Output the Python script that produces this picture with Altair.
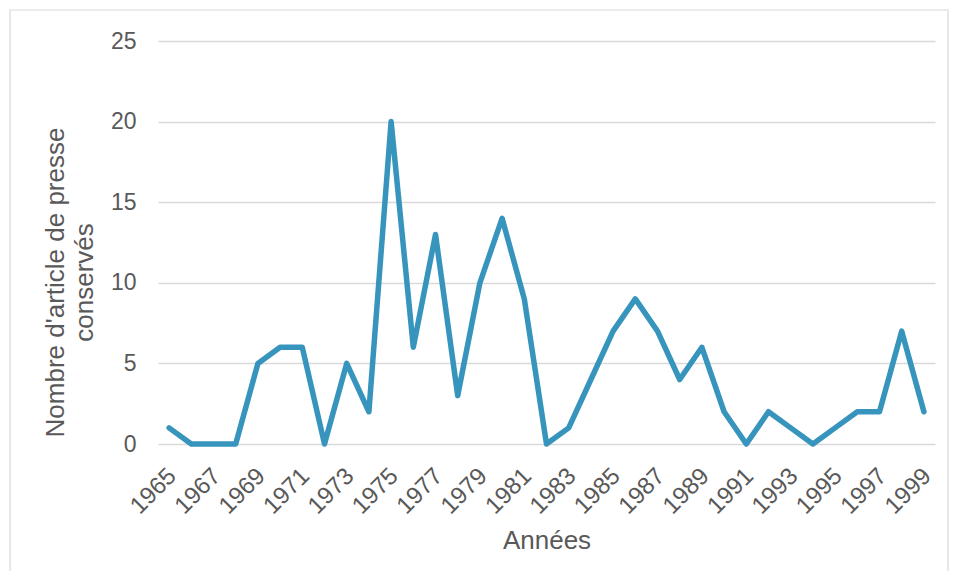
import altair as alt
import pandas as pd

years = list(range(1965, 2000))
counts = [1, 0, 0, 0, 5, 6, 6, 0, 5, 2, 20, 6, 13, 3, 10, 14, 9, 0, 1, 4,
          7, 9, 7, 4, 6, 2, 0, 2, 1, 0, 1, 2, 2, 7, 2]
label_years = list(range(1965, 2000, 2))
y_ticks = [0, 5, 10, 15, 20, 25]

df = pd.DataFrame({"Année": years, "Nombre": counts})

FONT = "Liberation Sans"
GREY = "#595959"

line = alt.Chart(df).mark_line(color="#3795bd", strokeWidth=5.5, strokeJoin="round", strokeCap="round").encode(
    x=alt.X("Année:O",
            scale=alt.Scale(paddingOuter=0.5),
            axis=alt.Axis(values=label_years, labelAngle=-45, labelAlign="right",
                          labelBaseline="middle", labelPadding=28, labelOffset=3,
                          ticks=False, domain=False,
                          grid=False, labelFontSize=24, labelColor=GREY, labelFont=FONT,
                          title="Années", titleFontSize=26, titleFontWeight="normal",
                          titleColor=GREY, titleFont=FONT, titleX=388.5, titleY=104,
                          titleBaseline="alphabetic", titleAlign="center")),
    y=alt.Y("Nombre:Q",
            scale=alt.Scale(domain=[0, 25], nice=False),
            axis=alt.Axis(values=y_ticks, ticks=False, domain=False, grid=True,
                          gridColor="#d9d9d9", gridWidth=1.6, labelPadding=22,
                          labelFontSize=23, labelColor=GREY, labelFont=FONT,
                          title=["Nombre d'article de presse", "conservés"],
                          titleFontSize=26, titleFontWeight="normal", titleColor=GREY,
                          titleFont=FONT, titleLineHeight=29, titleAngle=-90,
                          titleAlign="center", titleBaseline="middle",
                          titleX=-103, titleY=241)),
)

border = alt.Chart(pd.DataFrame({"a": [0]})).mark_rect(
    fill=None, stroke="#d9d9d9", strokeWidth=1.2
).encode(
    x=alt.value(-148), x2=alt.value(790), y=alt.value(-31), y2=alt.value(620)
)

chart = alt.layer(border, line).properties(
    width=777, height=403,
    autosize=alt.AutoSizeParams(type="none"),
    padding={"left": 150, "top": 33, "right": 15, "bottom": 127},
).configure_view(stroke=None)

chart.save("out.html", embed_options={"renderer": "svg", "actions": False})
